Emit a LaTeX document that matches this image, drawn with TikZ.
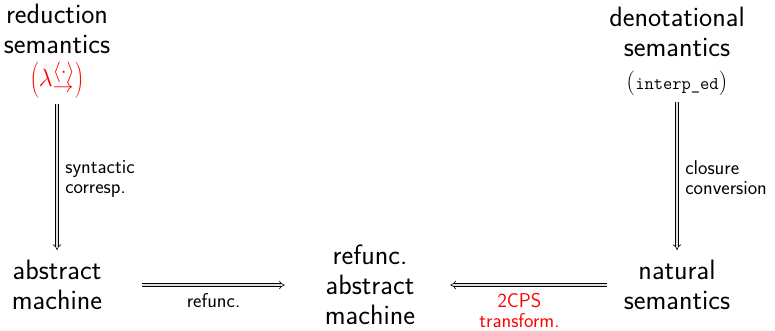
\documentclass[tikz,border=0pt]{standalone}
\usetikzlibrary{arrows.meta}
\begin{document}
\begin{tikzpicture}[x=1pt,y=1pt,
  big/.style={font=\sffamily\fontsize{28}{30}\selectfont, align=center, inner sep=0pt},
  lbl/.style={font=\sffamily\fontsize{20}{20}\selectfont, align=left, inner sep=0pt},
  dbl/.style={double distance=2.4pt, line width=0.6pt, -{Implies}, double=gray!25}]
\useasboundingbox (0,0) rectangle (775,330);

% the four semantic artefacts and the refunctionalized machine
\node[big] (rs) at (57,279) {reduction\\semantics\\[3pt]\textcolor{red}{$\left(\lambda^{\langle\cdot\rangle}_{\rightarrow}\right)$}};
\node[big] (ds) at (677,279) {denotational\\semantics\\[3pt]$\left(\mbox{\ttfamily\fontsize{18}{18}\selectfont interp\_ed}\right)$};
\node[big] (am) at (57,45) {abstract\\machine};
\node[big] (ns) at (677,45) {natural\\semantics};
\node[big] (ram) at (370,45) {refunc.\\abstract\\machine};

% derivations
\draw[dbl, shorten <=6pt, shorten >=10pt] (rs) -- (am)
  node[midway, right=8pt, lbl] {syntactic\\corresp.};
\draw[dbl, shorten <=6pt, shorten >=10pt] (ds) -- (ns)
  node[midway, right=8pt, lbl] {closure\\conversion};
\draw[dbl, shorten <=40pt, shorten >=40pt] (am.east) -- (am.east -| ram.west)
  node[midway, below=8pt, lbl] {refunc.};
\draw[dbl, shorten <=17pt, shorten >=35pt] (ns.west) -- (ns.west -| ram.east)
  node[midway, below=8pt, lbl, align=center, text=red] {2CPS\\transform.};
\end{tikzpicture}
\end{document}
